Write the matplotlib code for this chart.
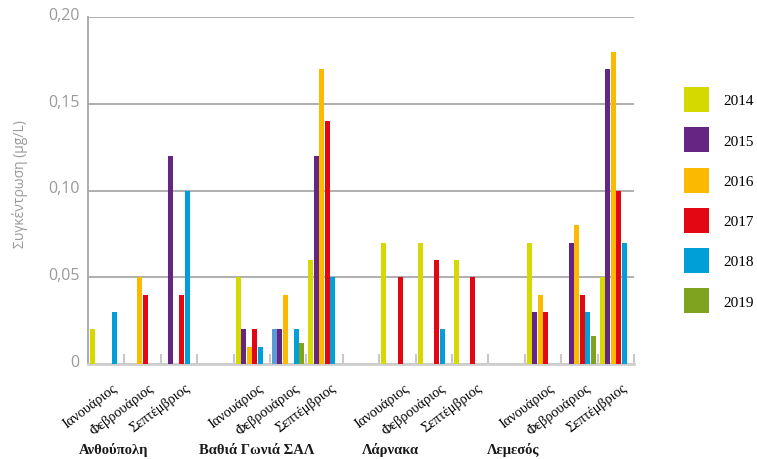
import matplotlib.pyplot as plt
import numpy as np
from matplotlib.patches import Patch
from matplotlib.transforms import ScaledTranslation

stations = ['Ανθούπολη', 'Βαθιά Γωνιά ΣΑΛ', 'Λάρνακα', 'Λεμεσός']
months = ['Ιανουάριος', 'Φεβρουάριος', 'Σεπτέμβριος']
years = ['2014', '2015', '2016', '2017', '2018', '2019']

# values per year, order: station x month (Ιαν, Φεβ, Σεπ)
y2014 = [0.02, 0, 0, 0.05, 0.02, 0.06, 0.07, 0.07, 0.06, 0.07, 0, 0.05]
y2015 = [0, 0, 0.12, 0.02, 0.02, 0.12, 0, 0, 0, 0.03, 0.07, 0.17]
y2016 = [0, 0.05, 0, 0.01, 0.04, 0.17, 0, 0, 0, 0.04, 0.08, 0.18]
y2017 = [0, 0.04, 0.04, 0.02, 0, 0.14, 0.05, 0.06, 0.05, 0.03, 0.04, 0.10]
y2018 = [0.03, 0, 0.10, 0.01, 0.02, 0.05, 0, 0.02, 0, 0, 0.03, 0.07]
y2019 = [0, 0, 0, 0, 0.012, 0, 0, 0, 0, 0, 0.016, 0]
series = [y2014, y2015, y2016, y2017, y2018, y2019]

colors = ['#d5d900', '#662483', '#fbba00', '#e30613', '#009fd8', '#7fa21f']
odd_color = '#5b9bd5'  # the one 2014 bar drawn in a different blue

grey = '#a8a8a8'

fig = plt.figure(figsize=(7.57, 4.6), dpi=100)
ax = fig.add_axes([88/757, 95/460, 546/757, 347/460])

# category positions: 3 months per station, one empty slot between stations
xpos = np.array([s*4 + m for s in range(4) for m in range(3)], dtype=float)
step = 0.151
width = 0.135
for i, vals in enumerate(series):
    cols = [colors[i]]*len(vals)
    if i == 0:
        cols[4] = odd_color
    ax.bar(xpos + (i - 2.5)*step, vals, width=width, color=cols, zorder=3)

ax.set_xlim(-0.5, 14.5)
ax.set_ylim(0, 0.2)
ax.set_yticks([0, 0.05, 0.10, 0.15, 0.20])
ax.set_yticklabels(['0', '0,05', '0,10', '0,15', '0,20'], color='#9a9a9a',
                   fontsize=11.5, family='Open Sans')
ax.tick_params(axis='y', length=0, pad=6)
for lab in ax.get_yticklabels():
    lab.set_transform(lab.get_transform() + ScaledTranslation(0, 4/100, fig.dpi_scale_trans))
ax.yaxis.grid(True, color=grey, lw=1.3, zorder=0)
ax.set_ylabel('Συγκέντρωση (μg/L)', color='#9a9a9a', fontsize=10, family='Open Sans')
ax.yaxis.set_label_coords(-0.11, 0.52)

ax.set_xticks(np.arange(-0.5, 15, 1))
ax.set_xticklabels([])
ax.tick_params(axis='x', which='major', direction='in', length=7, width=1.5, color='#c8c8c8')
ax.set_xticks(xpos, minor=True)
ax.set_xticklabels(months*4, minor=True, rotation=37, ha='right', va='top',
                   rotation_mode='anchor', fontsize=10.3, family='Liberation Serif')
ax.tick_params(axis='x', which='minor', length=0, pad=12)
for lab in ax.get_xticklabels(minor=True):
    lab.set_transform(lab.get_transform() + ScaledTranslation(6/100, 0, fig.dpi_scale_trans))

for side in ['top', 'right']:
    ax.spines[side].set_visible(False)
ax.spines['left'].set_color(grey)
ax.spines['left'].set_linewidth(1.3)
ax.spines['bottom'].set_color('#cfcfcf')
ax.spines['bottom'].set_linewidth(2)

station_x = [0.19, 4.14, 7.8, 11.18]
for sx, name in zip(station_x, stations):
    ax.text(sx, -0.245, name, transform=ax.get_xaxis_transform(), ha='center',
            va='center', fontsize=10.5, fontweight='bold', family='Liberation Serif',
            color='#1a1a1a')

handles = [Patch(facecolor=c, edgecolor='none') for c in colors]
fig.legend(handles, years, loc='upper left', bbox_to_anchor=(684/757, 1 - 88/460),
           frameon=False, borderpad=0, borderaxespad=0,
           handlelength=1.636, handleheight=2.14, handletextpad=0.95,
           labelspacing=1.0, prop={'family': 'Liberation Serif', 'size': 11})

fig.savefig('out.png', dpi=100)
